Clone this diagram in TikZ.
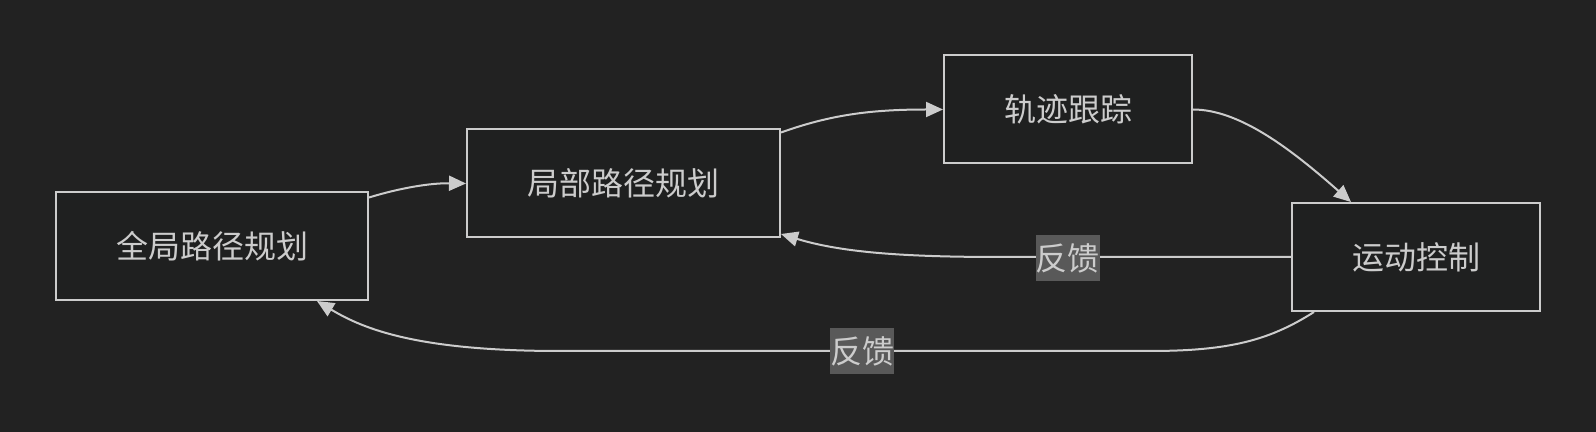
\documentclass[tikz,border=0pt]{standalone}
\usepackage{fontspec}
\setmainfont{Noto Sans CJK SC}
\usetikzlibrary{arrows.meta,calc}
\definecolor{bgc}{HTML}{222222}
\definecolor{boxf}{HTML}{1F2020}
\definecolor{edgec}{HTML}{CCCCCC}
\definecolor{txt}{HTML}{CCCCCC}
\definecolor{lblbg}{HTML}{595959}
\begin{document}
\begin{tikzpicture}[x=0.5pt,y=-0.5pt,
  box/.style={draw=edgec, fill=boxf, line width=1pt, inner sep=0pt,
    minimum height=54pt, text=txt, font=\fontsize{16}{18}\selectfont},
  lbl/.style={fill=lblbg, inner sep=0pt, minimum width=31.5pt, minimum height=23pt,
    text=txt, font=\fontsize{16}{18}\selectfont},
  conn/.style={draw=edgec, line width=1pt, -{Triangle[length=8.5pt,width=7.5pt]}}]
\useasboundingbox[fill=bgc] (0,0) rectangle (1596,432);
\node[box, minimum width=156pt] (g) at (212,246) {全局路径规划};
\node[box, minimum width=156.5pt] (l) at (623.5,183.5) {局部路径规划};
\node[box, minimum width=124pt] (t) at (1068,109.5) {轨迹跟踪};
\node[box, minimum width=124pt] (m) at (1416,257) {运动控制};
% edges
\draw[conn] ($(g.north east)+(0,6.5)$) .. controls (400,188) and (430,183) .. (l.west);
\draw[conn] ($(l.north east)+(0,4)$) .. controls (830,115) and (870,109.5) .. (t.west);
\draw[conn] (t.east) .. controls (1240,109.5) and (1292,150) .. ($(m.north west)+(60,0)$);
\coordinate (f1a) at (1000,257);
\draw[conn] (m.west) -- (f1a) .. controls (900,257) and (840,252) .. ($(l.south east)+(0,-4.5)$);
\coordinate (f2a) at (1150,351);
\coordinate (f2b) at (560,351);
\draw[conn] ($(m.south west)+(23,0)$) .. controls (1270,340) and (1230,351) .. (f2a) -- (f2b)
  .. controls (420,351) and (365,330) .. ($(g.south east)+(-52,0)$);
\node[lbl] (lb1) at (1067.5,258) {反馈};
\node[lbl] (lb2) at (862,351.5) {反馈};
\end{tikzpicture}
\end{document}
